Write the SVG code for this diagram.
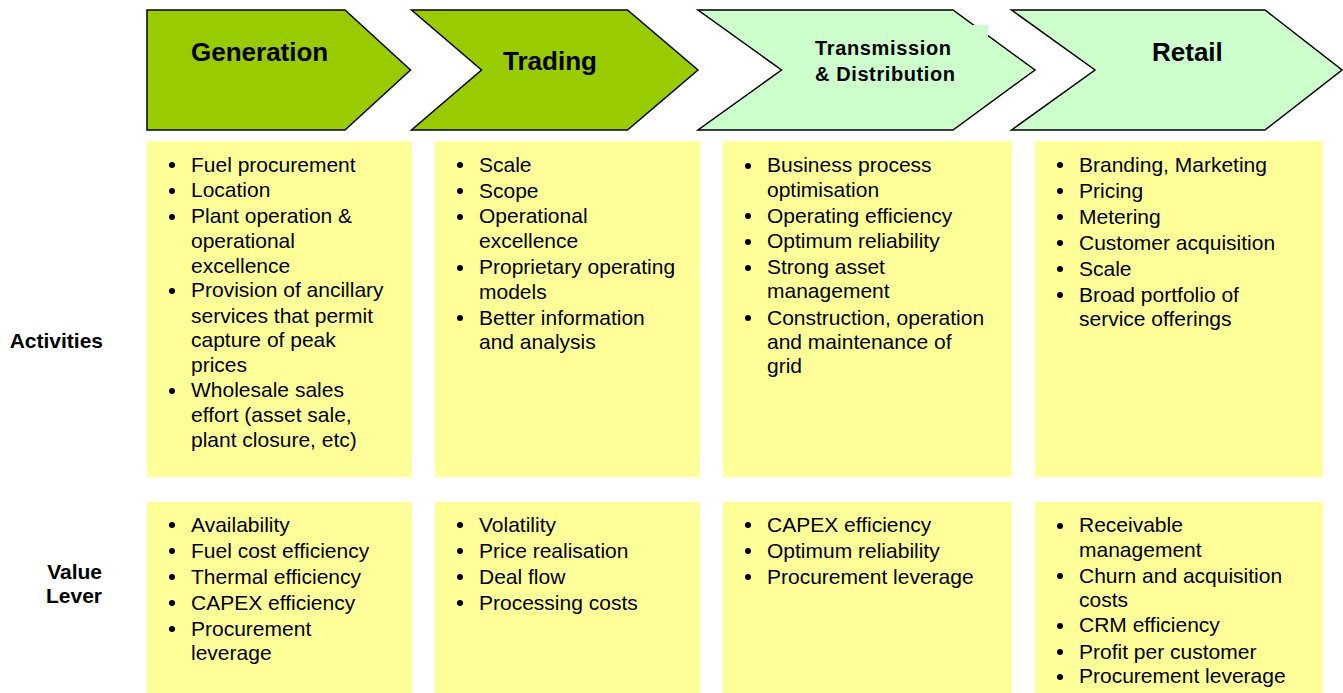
<svg xmlns="http://www.w3.org/2000/svg" width="1343" height="693" viewBox="0 0 1343 693">
  <style>
    .chev { stroke: #000; stroke-width: 1.5; stroke-linejoin: miter; }
    .dark { fill: #99cc00; }
    .light { fill: #ccffcc; }
    .box { fill: #ffff99; }
    .title { font-family: "Liberation Sans", Arial, sans-serif; font-weight: bold; font-size: 26px; fill: #000; }
    .title2 { font-family: "Liberation Sans", Arial, sans-serif; font-weight: bold; font-size: 20px; fill: #000; }
    .label { font-family: "Liberation Sans", Arial, sans-serif; font-weight: bold; font-size: 21px; fill: #000; text-anchor: end; }
    .item { font-family: "Liberation Sans", Arial, sans-serif; font-size: 21px; fill: #000; }
    .dot { fill: #000; }
  </style>
  <rect width="1343" height="693" fill="#ffffff"/>

  <!-- row labels -->
  <g id="row-labels">
    <text class="label" x="103" y="348">Activities</text>
    <text class="label" x="102" y="579">Value</text>
    <text class="label" x="102" y="603">Lever</text>
  </g>

  <!-- value chain stages -->
  <g id="stage-generation">
    <path class="chev dark" d="M147,10 L345,10 L410.5,70 L345,130 L147,130 Z"/>
    <text class="title" x="191" y="61">Generation</text>
  </g>
  <g id="stage-trading">
    <path class="chev dark" d="M411.5,10 L627.5,10 L698,70 L627.5,130 L411.5,130 L481.5,70 Z"/>
    <text class="title" x="503" y="69.5">Trading</text>
  </g>
  <g id="stage-td">
    <path class="chev light" d="M698,10 L953,10 L1035,70 L953,130 L698,130 L781.5,70 Z"/>
    <rect class="light" x="973" y="25" width="15" height="16"/>
    <text class="title2" x="815" y="55" textLength="136">Transmission</text>
    <text class="title2" x="815" y="81" textLength="140">&amp; Distribution</text>
  </g>
  <g id="stage-retail">
    <path class="chev light" d="M1011.5,10 L1265,10 L1342,70 L1265,130 L1011.5,130 L1095,70 Z"/>
    <text class="title" x="1152" y="61">Retail</text>
  </g>

  <!-- activities -->
  <g id="act-generation">
    <rect class="box" x="147" y="141" width="265" height="336"/>
    <g class="dot">
      <circle cx="172" cy="165" r="3"/><circle cx="172" cy="191" r="3"/><circle cx="172" cy="217" r="3"/>
      <circle cx="172" cy="291" r="3"/><circle cx="172" cy="391" r="3"/>
    </g>
    <text class="item" x="191" y="171.5">Fuel procurement</text>
    <text class="item" x="191" y="197.3">Location</text>
    <text class="item" x="191" y="223.3">Plant operation &amp;</text>
    <text class="item" x="191" y="248.3">operational</text>
    <text class="item" x="191" y="272.7">excellence</text>
    <text class="item" x="191" y="297.3">Provision of ancillary</text>
    <text class="item" x="191" y="322.7">services that permit</text>
    <text class="item" x="191" y="347.3">capture of peak</text>
    <text class="item" x="191" y="371.7">prices</text>
    <text class="item" x="191" y="397.3">Wholesale sales</text>
    <text class="item" x="191" y="422.3">effort (asset sale,</text>
    <text class="item" x="191" y="446.7">plant closure, etc)</text>
  </g>
  <g id="act-trading">
    <rect class="box" x="435" y="141" width="265" height="336"/>
    <g class="dot">
      <circle cx="460" cy="165" r="3"/><circle cx="460" cy="191" r="3"/><circle cx="460" cy="217" r="3"/>
      <circle cx="460" cy="268" r="3"/><circle cx="460" cy="318" r="3"/>
    </g>
    <text class="item" x="479" y="171.5">Scale</text>
    <text class="item" x="479" y="197.5">Scope</text>
    <text class="item" x="479" y="223.3">Operational</text>
    <text class="item" x="479" y="248">excellence</text>
    <text class="item" x="479" y="274">Proprietary operating</text>
    <text class="item" x="479" y="298.5">models</text>
    <text class="item" x="479" y="324.5">Better information</text>
    <text class="item" x="479" y="349">and analysis</text>
  </g>
  <g id="act-td">
    <rect class="box" x="723" y="141" width="289" height="336"/>
    <g class="dot">
      <circle cx="748" cy="166" r="3"/><circle cx="748" cy="216" r="3"/><circle cx="748" cy="242" r="3"/>
      <circle cx="748" cy="268" r="3"/><circle cx="748" cy="318" r="3"/>
    </g>
    <text class="item" x="767" y="172.3">Business process</text>
    <text class="item" x="767" y="196.7">optimisation</text>
    <text class="item" x="767" y="222.7">Operating efficiency</text>
    <text class="item" x="767" y="248.3">Optimum reliability</text>
    <text class="item" x="767" y="274.3">Strong asset</text>
    <text class="item" x="767" y="298.3">management</text>
    <text class="item" x="767" y="325">Construction, operation</text>
    <text class="item" x="767" y="349.3">and maintenance of</text>
    <text class="item" x="767" y="373.3">grid</text>
  </g>
  <g id="act-retail">
    <rect class="box" x="1035" y="141" width="288" height="336"/>
    <g class="dot">
      <circle cx="1060" cy="165" r="3"/><circle cx="1060" cy="191" r="3"/><circle cx="1060" cy="217" r="3"/>
      <circle cx="1060" cy="243" r="3"/><circle cx="1060" cy="269" r="3"/><circle cx="1060" cy="295" r="3"/>
    </g>
    <text class="item" x="1079" y="171.7">Branding, Marketing</text>
    <text class="item" x="1079" y="198">Pricing</text>
    <text class="item" x="1079" y="223.5">Metering</text>
    <text class="item" x="1079" y="250">Customer acquisition</text>
    <text class="item" x="1079" y="275.5">Scale</text>
    <text class="item" x="1079" y="301.5">Broad portfolio of</text>
    <text class="item" x="1079" y="325.7">service offerings</text>
  </g>

  <!-- value levers -->
  <g id="lever-generation">
    <rect class="box" x="147" y="502" width="265" height="191"/>
    <g class="dot">
      <circle cx="172" cy="525" r="3"/><circle cx="172" cy="551" r="3"/><circle cx="172" cy="577" r="3"/>
      <circle cx="172" cy="603" r="3"/><circle cx="172" cy="629" r="3"/>
    </g>
    <text class="item" x="191" y="531.7">Availability</text>
    <text class="item" x="191" y="557.5">Fuel cost efficiency</text>
    <text class="item" x="191" y="583.5">Thermal efficiency</text>
    <text class="item" x="191" y="609.5">CAPEX efficiency</text>
    <text class="item" x="191" y="635.5">Procurement</text>
    <text class="item" x="191" y="660">leverage</text>
  </g>
  <g id="lever-trading">
    <rect class="box" x="435" y="502" width="265" height="191"/>
    <g class="dot">
      <circle cx="460" cy="525" r="3"/><circle cx="460" cy="551" r="3"/><circle cx="460" cy="577" r="3"/>
      <circle cx="460" cy="603" r="3"/>
    </g>
    <text class="item" x="479" y="531.7">Volatility</text>
    <text class="item" x="479" y="558">Price realisation</text>
    <text class="item" x="479" y="584">Deal flow</text>
    <text class="item" x="479" y="609.5">Processing costs</text>
  </g>
  <g id="lever-td">
    <rect class="box" x="723" y="502" width="289" height="191"/>
    <g class="dot">
      <circle cx="748" cy="525" r="3"/><circle cx="748" cy="551" r="3"/><circle cx="748" cy="577" r="3"/>
    </g>
    <text class="item" x="767" y="531.7">CAPEX efficiency</text>
    <text class="item" x="767" y="557.5">Optimum reliability</text>
    <text class="item" x="767" y="583.5">Procurement leverage</text>
  </g>
  <g id="lever-retail">
    <rect class="box" x="1035" y="502" width="288" height="191"/>
    <g class="dot">
      <circle cx="1060" cy="526" r="3"/><circle cx="1060" cy="576" r="3"/><circle cx="1060" cy="626" r="3"/>
      <circle cx="1060" cy="652" r="3"/><circle cx="1060" cy="677" r="3"/>
    </g>
    <text class="item" x="1079" y="532.3">Receivable</text>
    <text class="item" x="1079" y="557.3">management</text>
    <text class="item" x="1079" y="582.7">Churn and acquisition</text>
    <text class="item" x="1079" y="606.7">costs</text>
    <text class="item" x="1079" y="632.3">CRM efficiency</text>
    <text class="item" x="1079" y="659">Profit per customer</text>
    <text class="item" x="1079" y="683.3">Procurement leverage</text>
  </g>
</svg>
